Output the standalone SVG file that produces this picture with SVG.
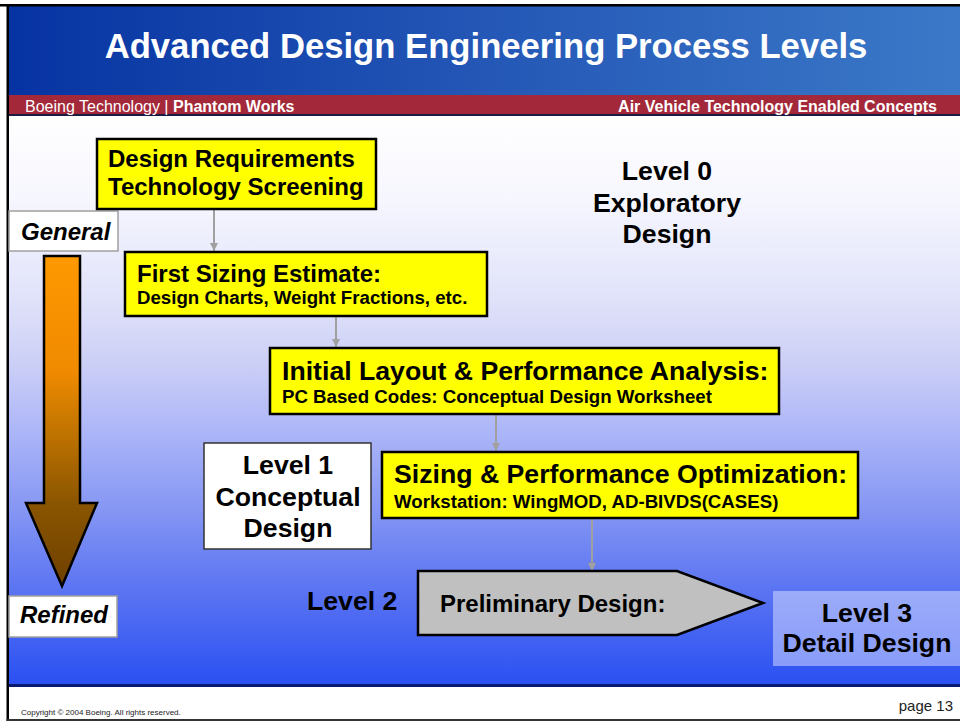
<svg xmlns="http://www.w3.org/2000/svg" width="960" height="723" viewBox="0 0 960 723">
  <defs>
    <linearGradient id="headerGrad" x1="0" y1="0" x2="1" y2="0">
      <stop offset="0" stop-color="#0633a2"/>
      <stop offset="0.5" stop-color="#2457b6"/>
      <stop offset="1" stop-color="#3b79c8"/>
    </linearGradient>
    <linearGradient id="bodyGrad" gradientUnits="userSpaceOnUse" x1="0" y1="116" x2="0" y2="685">
      <stop offset="0" stop-color="#ffffff"/>
      <stop offset="0.148" stop-color="#f6f6fe"/>
      <stop offset="0.323" stop-color="#e0e2fa"/>
      <stop offset="0.429" stop-color="#cdd0f6"/>
      <stop offset="0.534" stop-color="#b2baf8"/>
      <stop offset="0.675" stop-color="#8a9af4"/>
      <stop offset="0.815" stop-color="#6078f2"/>
      <stop offset="1" stop-color="#2a50f2"/>
    </linearGradient>
    <linearGradient id="arrowGrad" gradientUnits="userSpaceOnUse" x1="0" y1="256" x2="0" y2="586">
      <stop offset="0" stop-color="#ff9900"/>
      <stop offset="0.35" stop-color="#f08a00"/>
      <stop offset="0.5" stop-color="#c97800"/>
      <stop offset="0.75" stop-color="#8a5500"/>
      <stop offset="1" stop-color="#6e4000"/>
    </linearGradient>
    <marker id="head" markerUnits="userSpaceOnUse" markerWidth="10" markerHeight="10" refX="8" refY="4" orient="auto">
      <path d="M0,0 L8,4 L0,8 Z" fill="#a0a0a0"/>
    </marker>
  </defs>
  <style>
    text { font-family: "Liberation Sans", Arial, sans-serif; font-weight: bold; fill: #000; }
    .step { fill: #ffff00; stroke: #000; stroke-width: 2.5; }
    .t24 { font-size: 24px; }
    .t27 { font-size: 26.67px; }
    .sub { font-size: 18.67px; }
    .lvl { font-size: 26.67px; text-anchor: middle; }
    .tag { fill: #fff; stroke: #a0a0a0; stroke-width: 1.5; }
    .tagtxt { font-size: 24px; font-style: italic; }
    .conn { stroke: #a0a0a0; stroke-width: 2; fill: none; marker-end: url(#head); }
  </style>

  <!-- page background -->
  <rect x="0" y="0" width="960" height="723" fill="#ffffff"/>
  <rect x="8" y="116" width="952" height="570" fill="url(#bodyGrad)"/>

  <!-- header -->
  <g id="header">
    <rect x="8" y="5" width="952" height="90" fill="url(#headerGrad)"/>
    <rect x="8" y="95" width="952" height="19" fill="#a3283a"/>
    <rect x="8" y="114" width="952" height="2" fill="#1c1c40"/>
    <text x="486" y="58" text-anchor="middle" style="font-size:34.67px; fill:#fff">Advanced Design Engineering Process Levels</text>
    <text x="25" y="112" style="font-size:16px; fill:#fff; font-weight:normal">Boeing Technology | <tspan style="font-weight:bold">Phantom Works</tspan></text>
    <text x="937" y="112" text-anchor="end" style="font-size:16px; fill:#fff">Air Vehicle Technology Enabled Concepts</text>
  </g>

  <!-- footer -->
  <g id="footer">
    <rect x="8" y="684" width="952" height="3" fill="#0a1a70"/>
    <text x="21" y="715" style="font-size:8px; font-weight:normal; fill:#222">Copyright © 2004 Boeing. All rights reserved.</text>
    <text x="953" y="711" text-anchor="end" style="font-size:15px; font-weight:normal; fill:#222">page 13</text>
  </g>

  <!-- frame -->
  <rect x="0" y="4" width="960" height="2.5" fill="#000"/>
  <rect x="6.5" y="4" width="2.5" height="717" fill="#000"/>
  <rect x="6.5" y="719" width="953.5" height="2" fill="#333"/>

  <!-- general to refined arrow -->
  <g id="refine-arrow">
    <path d="M44,256 L80,256 L80,503 L97,503 L62,586 L26,503 L44,503 Z" fill="url(#arrowGrad)" stroke="#000" stroke-width="2.5" stroke-linejoin="miter"/>
  </g>
  <g id="general">
    <rect class="tag" x="9" y="211" width="109" height="40"/>
    <text class="tagtxt" x="21" y="240">General</text>
  </g>
  <g id="refined">
    <rect class="tag" x="9" y="596" width="108" height="41"/>
    <text class="tagtxt" x="20" y="623">Refined</text>
  </g>

  <!-- connectors -->
  <g id="connectors">
    <line class="conn" x1="214" y1="210" x2="214" y2="251"/>
    <line class="conn" x1="336" y1="317" x2="336" y2="347"/>
    <line class="conn" x1="496" y1="415" x2="496" y2="451"/>
    <line class="conn" x1="592" y1="519" x2="592" y2="571"/>
  </g>

  <!-- process steps -->
  <g id="design-requirements">
    <rect class="step" x="97" y="139" width="279" height="70"/>
    <text class="t24" x="108" y="167">Design Requirements</text>
    <text class="t24" x="108" y="195">Technology Screening</text>
  </g>
  <g id="first-sizing">
    <rect class="step" x="125" y="252" width="362" height="64"/>
    <text class="t24" x="137" y="282">First Sizing Estimate:</text>
    <text class="sub" x="137" y="304">Design Charts, Weight Fractions, etc.</text>
  </g>
  <g id="initial-layout">
    <rect class="step" x="270" y="348" width="509" height="66"/>
    <text class="t27" x="282" y="380">Initial Layout &amp; Performance Analysis:</text>
    <text class="sub" x="282" y="403">PC Based Codes: Conceptual Design Worksheet</text>
  </g>
  <g id="sizing-optimization">
    <rect class="step" x="382" y="452" width="476" height="66"/>
    <text class="t27" x="394" y="483">Sizing &amp; Performance Optimization:</text>
    <text class="sub" x="394" y="508">Workstation: WingMOD, AD-BIVDS(CASES)</text>
  </g>
  <g id="preliminary-design">
    <path d="M418,571 L677,571 L763,603 L677,635 L418,635 Z" fill="#c0c0c0" stroke="#000" stroke-width="2.5"/>
    <text class="t24" x="440" y="612">Preliminary Design:</text>
  </g>

  <!-- level labels -->
  <g id="level-0">
    <text class="lvl" x="667" y="180">Level 0</text>
    <text class="lvl" x="667" y="212">Exploratory</text>
    <text class="lvl" x="667" y="243">Design</text>
  </g>
  <g id="level-1">
    <rect x="204" y="443" width="167" height="106" fill="#fff" stroke="#333" stroke-width="1.5"/>
    <text class="lvl" x="288" y="474">Level 1</text>
    <text class="lvl" x="288" y="506">Conceptual</text>
    <text class="lvl" x="288" y="537">Design</text>
  </g>
  <g id="level-2">
    <text class="t27" x="307" y="610">Level 2</text>
  </g>
  <g id="level-3">
    <rect x="773" y="591" width="187" height="75" fill="#dde2ff" fill-opacity="0.5"/>
    <text class="lvl" x="867" y="622">Level 3</text>
    <text class="lvl" x="867" y="652">Detail Design</text>
  </g>
</svg>
